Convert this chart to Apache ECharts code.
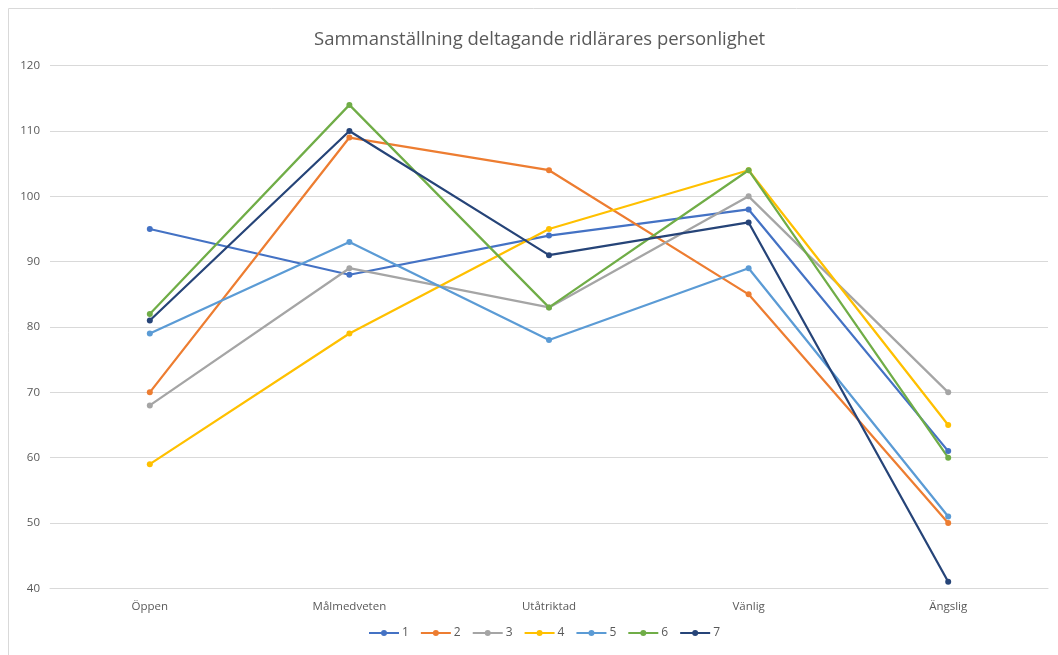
<!DOCTYPE html>
<html>
<head>
<meta charset="utf-8">
<script src="https://cdn.jsdelivr.net/npm/echarts@6/dist/echarts.min.js"></script>
<style>
html,body{margin:0;padding:0;background:#fff;}
#chart{width:1058px;height:655px;}
</style>
</head>
<body>
<div id="chart"></div>
<script>
var categories = ['Öppen', 'Målmedveten', 'Utåtriktad', 'Vänlig', 'Ängslig'];
var seriesNames = ['1', '2', '3', '4', '5', '6', '7'];
var s1 = [95, 88, 94, 98, 61];
var s2 = [70, 109, 104, 85, 50];
var s3 = [68, 89, 83, 100, 70];
var s4 = [59, 79, 95, 104, 65];
var s5 = [79, 93, 78, 89, 51];
var s6 = [82, 114, 83, 104, 60];
var s7 = [81, 110, 91, 96, 41];
var colors = ['#4472C4', '#ED7D31', '#A5A5A5', '#FFC000', '#5B9BD5', '#70AD47', '#264478'];
var allData = [s1, s2, s3, s4, s5, s6, s7];

var chart = echarts.init(document.getElementById('chart'));
var font = 'Open Sans, Liberation Sans, sans-serif';
chart.setOption({
  animation: false,
  color: colors,
  graphic: [{
    type: 'rect',
    shape: {x: 8.5, y: 8.5, width: 1100, height: 700},
    style: {fill: 'none', stroke: '#D9D9D9', lineWidth: 1},
    silent: true
  }],
  title: {
    text: 'Sammanställning deltagande ridlärares personlighet',
    left: 309,
    top: 25,
    textStyle: {fontFamily: font, fontSize: 18.5, fontWeight: 'normal', color: '#595959'}
  },
  legend: {
    data: seriesNames,
    bottom: 11,
    left: 364,
    itemWidth: 30,
    itemHeight: 6,
    itemGap: 12,
    icon: 'path://M0,2.1 L30,2.1 L30,3.9 L0,3.9 Z M12,3 A3,3 0 1,1 18,3 A3,3 0 1,1 12,3 Z',
    textStyle: {fontFamily: font, fontSize: 12, color: '#595959', padding: [0, 0, 0, -2]}
  },
  grid: {left: 50, right: 10, top: 65.7, bottom: 66.7, containLabel: false},
  xAxis: {
    type: 'category',
    data: categories,
    boundaryGap: true,
    axisLine: {show: true, lineStyle: {color: '#D9D9D9'}},
    axisTick: {show: false},
    axisLabel: {fontFamily: font, fontSize: 11.5, color: '#595959', margin: 12}
  },
  yAxis: {
    type: 'value',
    min: 40,
    max: 120,
    interval: 10,
    axisLine: {show: false},
    axisTick: {show: false},
    splitLine: {lineStyle: {color: '#D9D9D9', width: 1}},
    axisLabel: {fontFamily: font, fontSize: 11.5, color: '#595959', margin: 10}
  },
  series: allData.map(function (d, i) {
    return {
      name: seriesNames[i],
      type: 'line',
      data: d,
      symbol: 'circle',
      symbolSize: 6,
      lineStyle: {width: 2.25, color: colors[i]},
      itemStyle: {color: colors[i]}
    };
  })
});
</script>
</body>
</html>
